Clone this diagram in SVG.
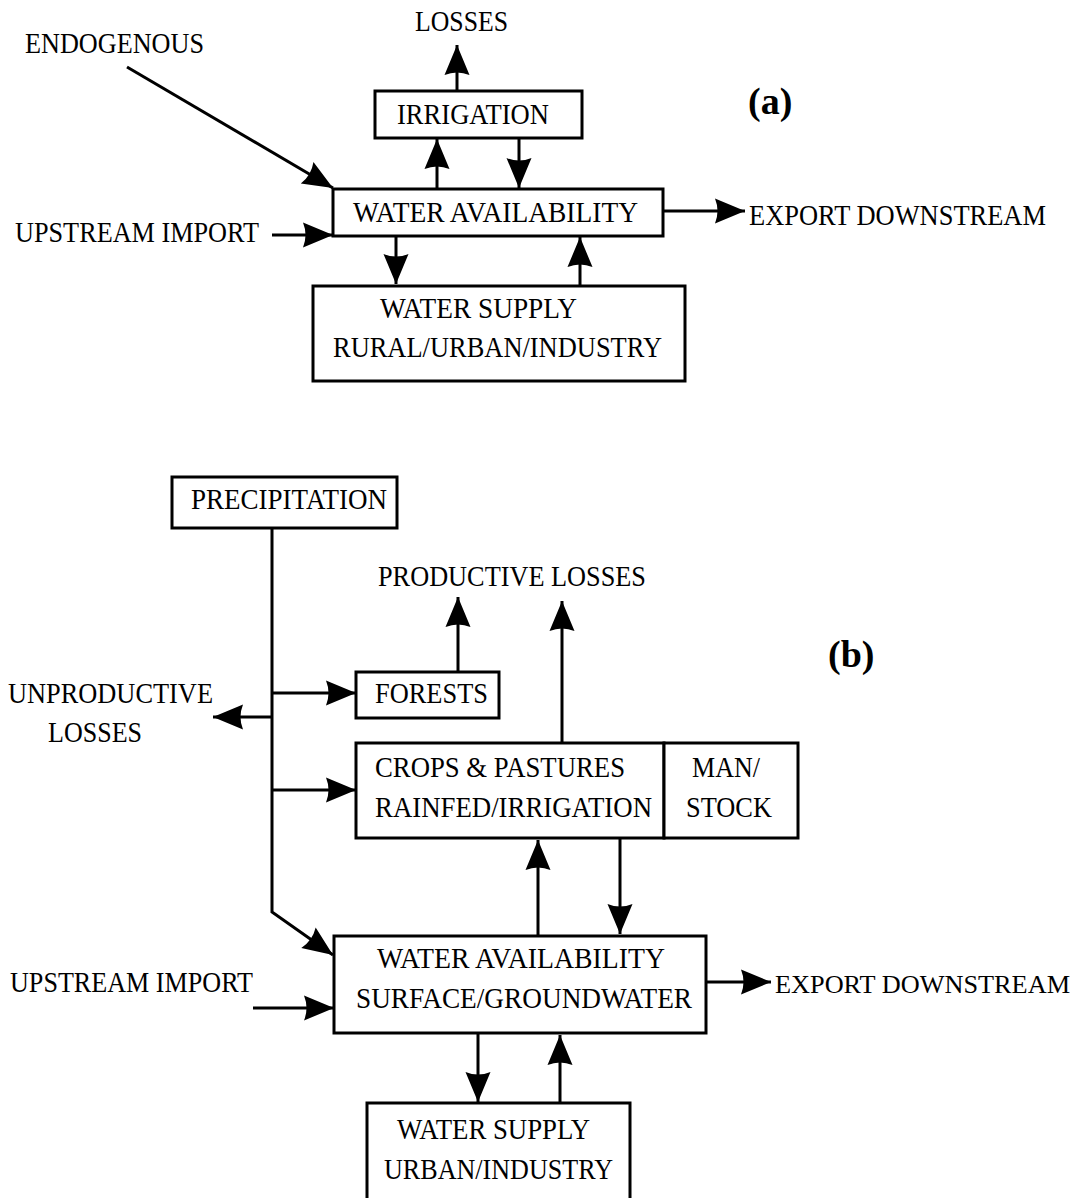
<svg xmlns="http://www.w3.org/2000/svg" width="1078" height="1198" viewBox="0 0 1078 1198">
  <style>
    .box { fill: #ffffff; stroke: #000000; stroke-width: 3; }
    .link { fill: none; stroke: #000000; stroke-width: 3; marker-end: url(#head); }
    text { font-family: "Liberation Serif", "Times New Roman", serif; font-size: 29px; fill: #000000; }
    .tag { font-size: 38px; font-weight: bold; }
    .edge { font-size: 25.5px; }
  </style>
  <defs>
    <marker id="head" markerUnits="userSpaceOnUse" viewBox="-32 -14 34 28" markerWidth="34" markerHeight="28" refX="0" refY="0" orient="auto">
      <path d="M0,0 L-30,-12.5 Q-25,0 -30,12.5 Z" fill="#000000"/>
    </marker>
  </defs>
  <rect width="1078" height="1198" fill="#ffffff"/>

  <!-- (a) simple balance -->
  <g id="a-label"><text class="tag" x="748" y="114">(a)</text></g>
  <g id="a-endogenous"><text x="25" y="53" textLength="179" lengthAdjust="spacingAndGlyphs">ENDOGENOUS</text></g>
  <g id="a-losses"><text x="415" y="31" textLength="93" lengthAdjust="spacingAndGlyphs">LOSSES</text></g>
  <g id="a-irrigation">
    <rect class="box" x="375" y="91" width="207" height="47"/>
    <text x="397" y="124" textLength="152" lengthAdjust="spacingAndGlyphs">IRRIGATION</text>
  </g>
  <g id="a-availability">
    <rect class="box" x="333" y="189" width="330" height="47"/>
    <text x="353" y="222" textLength="285" lengthAdjust="spacingAndGlyphs">WATER AVAILABILITY</text>
  </g>
  <g id="a-export"><text x="749" y="225" textLength="297" lengthAdjust="spacingAndGlyphs">EXPORT DOWNSTREAM</text></g>
  <g id="a-upstream"><text x="15" y="242" textLength="244" lengthAdjust="spacingAndGlyphs">UPSTREAM IMPORT</text></g>
  <g id="a-supply">
    <rect class="box" x="313" y="286" width="372" height="95"/>
    <text x="380" y="318" textLength="197" lengthAdjust="spacingAndGlyphs">WATER SUPPLY</text>
    <text x="333" y="357" textLength="329" lengthAdjust="spacingAndGlyphs">RURAL/URBAN/INDUSTRY</text>
  </g>

  <!-- (b) detailed balance -->
  <g id="b-label"><text class="tag" x="828" y="667">(b)</text></g>
  <g id="b-precipitation">
    <rect class="box" x="172" y="477" width="225" height="51"/>
    <text x="191" y="509" textLength="196" lengthAdjust="spacingAndGlyphs">PRECIPITATION</text>
  </g>
  <g id="b-productive-losses"><text x="378" y="586" textLength="268" lengthAdjust="spacingAndGlyphs">PRODUCTIVE LOSSES</text></g>
  <g id="b-unproductive-losses">
    <text x="8" y="703" textLength="205" lengthAdjust="spacingAndGlyphs">UNPRODUCTIVE</text>
    <text x="48" y="742" textLength="94" lengthAdjust="spacingAndGlyphs">LOSSES</text>
  </g>
  <g id="b-forests">
    <rect class="box" x="356" y="672" width="143" height="46"/>
    <text x="375" y="703" textLength="113" lengthAdjust="spacingAndGlyphs">FORESTS</text>
  </g>
  <g id="b-crops">
    <rect class="box" x="356" y="743" width="308" height="95"/>
    <text x="375" y="777" textLength="250" lengthAdjust="spacingAndGlyphs">CROPS &amp; PASTURES</text>
    <text x="375" y="817" textLength="277" lengthAdjust="spacingAndGlyphs">RAINFED/IRRIGATION</text>
  </g>
  <g id="b-man-stock">
    <rect class="box" x="664" y="743" width="134" height="95"/>
    <text x="692" y="777" textLength="68" lengthAdjust="spacingAndGlyphs">MAN/</text>
    <text x="686" y="817" textLength="86" lengthAdjust="spacingAndGlyphs">STOCK</text>
  </g>
  <g id="b-availability">
    <rect class="box" x="334" y="936" width="372" height="97"/>
    <text x="377" y="968" textLength="288" lengthAdjust="spacingAndGlyphs">WATER AVAILABILITY</text>
    <text x="356" y="1008" textLength="336" lengthAdjust="spacingAndGlyphs">SURFACE/GROUNDWATER</text>
  </g>
  <g id="b-upstream"><text x="10" y="992" textLength="243" lengthAdjust="spacingAndGlyphs">UPSTREAM IMPORT</text></g>
  <g id="b-export"><text class="edge" x="775" y="993" textLength="295" lengthAdjust="spacingAndGlyphs">EXPORT DOWNSTREAM</text></g>
  <g id="b-supply">
    <rect class="box" x="367" y="1103" width="263" height="120"/>
    <text x="397" y="1139" textLength="193" lengthAdjust="spacingAndGlyphs">WATER SUPPLY</text>
    <text x="384" y="1179" textLength="229" lengthAdjust="spacingAndGlyphs">URBAN/INDUSTRY</text>
  </g>

  <g id="connectors">
    <!-- (a) -->
    <line class="link" x1="127" y1="67" x2="333" y2="188"/>
    <line class="link" x1="272" y1="235" x2="333" y2="235"/>
    <line class="link" x1="663" y1="211" x2="745" y2="211"/>
    <line class="link" x1="437" y1="189" x2="437" y2="139"/>
    <line class="link" x1="519" y1="138" x2="519" y2="188"/>
    <line class="link" x1="457" y1="91" x2="457" y2="45"/>
    <line class="link" x1="396" y1="236" x2="396" y2="284"/>
    <line class="link" x1="580" y1="286" x2="580" y2="237"/>
    <!-- (b) -->
    <path class="link" d="M272,528 V912 L333,955"/>
    <line class="link" x1="273" y1="717" x2="213" y2="717"/>
    <line class="link" x1="273" y1="693" x2="356" y2="693"/>
    <line class="link" x1="273" y1="790" x2="356" y2="790"/>
    <line class="link" x1="458" y1="672" x2="458" y2="597"/>
    <line class="link" x1="562" y1="743" x2="562" y2="601"/>
    <line class="link" x1="538" y1="936" x2="538" y2="840"/>
    <line class="link" x1="620" y1="838" x2="620" y2="934"/>
    <line class="link" x1="706" y1="982" x2="771" y2="982"/>
    <line class="link" x1="253" y1="1008" x2="334" y2="1008"/>
    <line class="link" x1="478" y1="1033" x2="478" y2="1102"/>
    <line class="link" x1="560" y1="1103" x2="560" y2="1035"/>
  </g>
</svg>
